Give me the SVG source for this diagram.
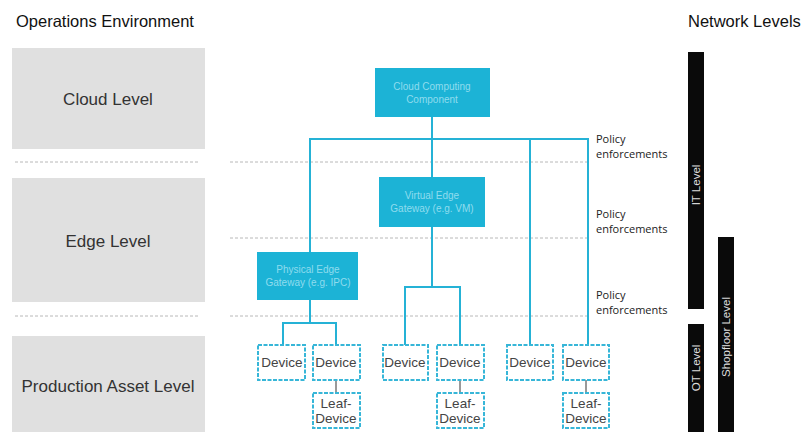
<svg xmlns="http://www.w3.org/2000/svg" width="812" height="432" viewBox="0 0 812 432">
<style>
.hdr{font-family:"Liberation Sans",Arial,sans-serif;font-size:16.5px;fill:#111}
.lvl{fill:#e0e0e0}
.lvlt{font-family:"Liberation Sans",Arial,sans-serif;font-size:17px;fill:#333;text-anchor:middle}
.sep{stroke:#b8b8b8;stroke-width:1;stroke-dasharray:3 2}
.gw{fill:#1cb3d6}
.gwt{font-family:"Liberation Sans",Arial,sans-serif;font-size:10px;fill:#8fdcee;text-anchor:middle}
.dev{fill:#fff;stroke:#37b6d8;stroke-width:2;stroke-dasharray:4 1.5}
.devt{font-family:"Liberation Sans",Arial,sans-serif;font-size:13.5px;fill:#444;text-anchor:middle}
.pol{font-family:"Open Sans","Liberation Sans",sans-serif;font-size:11px;fill:#222}
.bar{fill:#0a0a0a}
.bart{font-family:"Liberation Sans",Arial,sans-serif;font-size:11.5px;fill:#ddd;text-anchor:middle}
.c{fill:none;stroke:#25b2d6;stroke-width:2}
.g{fill:none;stroke:#999;stroke-width:2}
</style>
<rect width="812" height="432" fill="#fff"/>
<text class="hdr" x="16" y="27">Operations Environment</text>
<text class="hdr" x="688" y="27">Network Levels</text>

<g id="cloud-level"><rect class="lvl" x="12" y="48" width="193" height="101"/><text class="lvlt" x="108" y="105">Cloud Level</text></g>
<g id="edge-level"><rect class="lvl" x="12" y="178" width="193" height="124"/><text class="lvlt" x="108" y="247">Edge Level</text></g>
<g id="production-level"><rect class="lvl" x="12" y="336" width="193" height="96"/><text class="lvlt" x="108" y="392">Production Asset Level</text></g>

<g id="separators">
<line class="sep" x1="15" y1="162" x2="200" y2="162"/>
<line class="sep" x1="230" y1="162" x2="590" y2="162"/>
<line class="sep" x1="230" y1="238" x2="590" y2="238"/>
<line class="sep" x1="15" y1="316" x2="200" y2="316"/>
<line class="sep" x1="230" y1="316" x2="590" y2="316"/>
</g>

<g id="connectors">
<path class="c" d="M432 117 V177"/>
<path class="c" d="M310 252 V139 H588 V345"/>
<path class="c" d="M530 139 V345"/>
<path class="c" d="M432 227 V287"/>
<path class="c" d="M405 345 V287 H460 V345"/>
<path class="c" d="M310 300 V323"/>
<path class="c" d="M283 345 V323 H336 V345"/>
<path class="g" d="M336 380 V393"/>
<path class="g" d="M460 380 V393"/>
<path class="g" d="M586 380 V393"/>
</g>

<g id="cloud-computing"><rect class="gw" x="375" y="68" width="115" height="49"/><text class="gwt" x="432" y="90">Cloud Computing</text><text class="gwt" x="432" y="103">Component</text></g>
<g id="virtual-edge"><rect class="gw" x="379" y="177" width="106" height="50"/><text class="gwt" x="432" y="199">Virtual Edge</text><text class="gwt" x="432" y="212">Gateway (e.g. VM)</text></g>
<g id="physical-edge"><rect class="gw" x="257" y="252" width="101" height="48"/><text class="gwt" x="308" y="273">Physical Edge</text><text class="gwt" x="308" y="286">Gateway (e.g. IPC)</text></g>

<g id="device1"><rect class="dev" x="258" y="345" width="47" height="35"/><text class="devt" x="282" y="367">Device</text></g>
<g id="device2"><rect class="dev" x="313" y="345" width="47" height="35"/><text class="devt" x="336" y="367">Device</text></g>
<g id="device3"><rect class="dev" x="383" y="345" width="45" height="35"/><text class="devt" x="405" y="367">Device</text></g>
<g id="device4"><rect class="dev" x="437" y="345" width="47" height="35"/><text class="devt" x="460" y="367">Device</text></g>
<g id="device5"><rect class="dev" x="507" y="345" width="46" height="35"/><text class="devt" x="530" y="367">Device</text></g>
<g id="device6"><rect class="dev" x="563" y="345" width="46" height="35"/><text class="devt" x="586" y="367">Device</text></g>
<g id="leaf1"><rect class="dev" x="313" y="393" width="47" height="35"/><text class="devt" x="336" y="408">Leaf-</text><text class="devt" x="336" y="423">Device</text></g>
<g id="leaf2"><rect class="dev" x="437" y="393" width="47" height="35"/><text class="devt" x="460" y="408">Leaf-</text><text class="devt" x="460" y="423">Device</text></g>
<g id="leaf3"><rect class="dev" x="563" y="393" width="46" height="35"/><text class="devt" x="586" y="408">Leaf-</text><text class="devt" x="586" y="423">Device</text></g>

<g id="policy">
<text class="pol" x="596" y="143">Policy</text><text class="pol" x="596" y="158">enforcements</text>
<text class="pol" x="596" y="218">Policy</text><text class="pol" x="596" y="233">enforcements</text>
<text class="pol" x="596" y="299">Policy</text><text class="pol" x="596" y="314">enforcements</text>
</g>

<g id="it-level"><rect class="bar" x="688" y="52" width="16" height="257"/><text class="bart" transform="translate(700 185) rotate(-90)">IT Level</text></g>
<g id="ot-level"><rect class="bar" x="688" y="324" width="16" height="108"/><text class="bart" transform="translate(700 368) rotate(-90)">OT Level</text></g>
<g id="shopfloor-level"><rect class="bar" x="718" y="237" width="16" height="195"/><text class="bart" transform="translate(730 337) rotate(-90)">Shopfloor Level</text></g>
</svg>
